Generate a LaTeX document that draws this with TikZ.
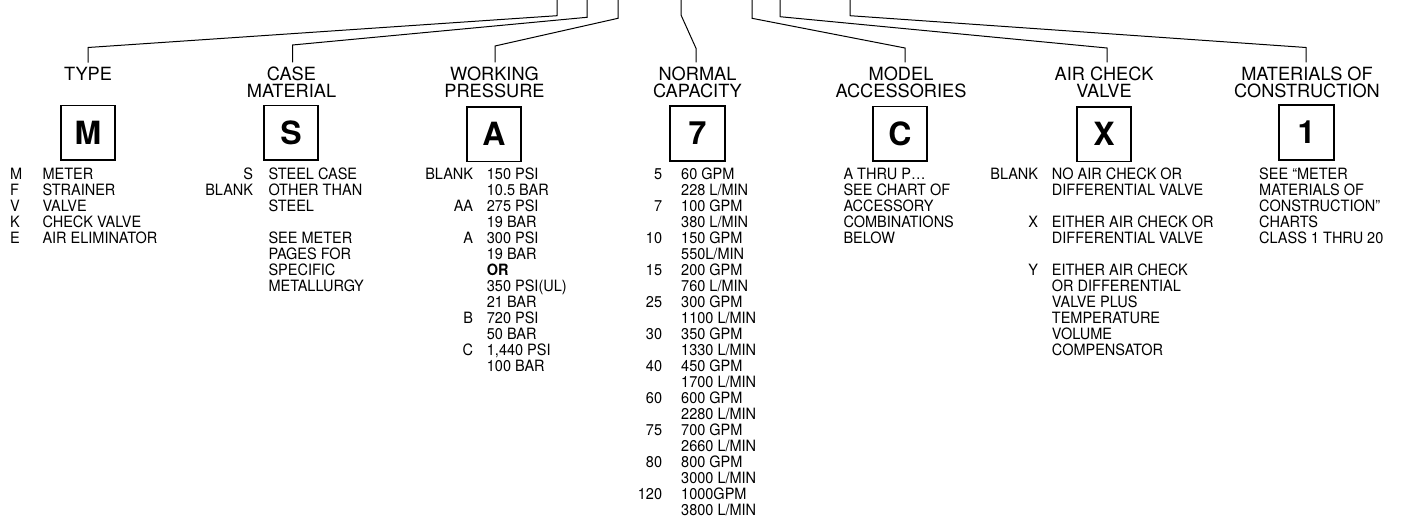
\documentclass[tikz,border=0pt]{standalone}
\usepackage{fontspec}
\setmainfont{TeX Gyre Heros}
\newfontfamily\bodyfont[FakeStretch=0.93]{TeX Gyre Heros}
\tikzset{
  conn/.style={line width=1pt, line join=miter},
  head/.style={font=\fontsize{18.2}{16.7}\selectfont, align=center, anchor=base, inner sep=0pt, outer ysep=5pt},
  codebox/.style={draw, line width=1.8pt, minimum size=54.5pt, inner sep=0pt, font=\fontsize{32}{32}\selectfont\bfseries},
  codes/.style={font=\bodyfont\fontsize{15.6}{16}\selectfont, align=right, anchor=base east, inner sep=0pt},
  codesl/.style={font=\bodyfont\fontsize{15.6}{16}\selectfont, align=left, anchor=base west, inner sep=0pt},
  desc/.style={font=\bodyfont\fontsize{15.6}{16}\selectfont, align=left, anchor=base west, inner sep=0pt},
}
\begin{document}
\begin{tikzpicture}[x=1pt,y=-1pt]
\useasboundingbox (0,0) rectangle (1404,519);

% headings (anchor = baseline of the last line)
\node[head] (hType) at (88,81) {TYPE};
\node[head] (hCase) at (291.5,97.7) {CASE\\MATERIAL};
\node[head] (hWork) at (494.5,97.7) {WORKING\\PRESSURE};
\node[head] (hNorm) at (697.5,97.7) {NORMAL\\CAPACITY};
\node[head] (hModel) at (901,97.7) {MODEL\\ACCESSORIES};
\node[head] (hAir) at (1104,97.7) {AIR CHECK\\VALVE};
\node[head] (hMat) at (1307,97.7) {MATERIALS OF\\CONSTRUCTION};

% boxes
\node[codebox] (bM) at (88,132.7) {M};
\node[codebox] (bS) at (291,132.7) {S};
\node[codebox] (bA) at (494,134.2) {A};
\node[codebox] (b7) at (697.5,133.5) {7};
\node[codebox] (bC) at (900,133.7) {C};
\node[codebox] (bX) at (1104,134.2) {X};
\node[codebox] (b1) at (1306.5,132.5) {1};

% connectors
\coordinate (t1) at (557,0);   \coordinate (k1) at (557,15.7);  \coordinate (c1) at (88,47.5);
\coordinate (t2) at (587,0);   \coordinate (k2) at (587,17.3);  \coordinate (c2) at (292.5,45);
\coordinate (t3) at (618,0);   \coordinate (k3) at (618,18.3);  \coordinate (c3) at (495,46);
\coordinate (t4) at (681,0);   \coordinate (k4) at (681,15);    \coordinate (c4) at (696,48.3);
\coordinate (t5) at (752,0);   \coordinate (k5) at (752,18.3);  \coordinate (c5) at (905,48);
\coordinate (t6) at (780,0);   \coordinate (k6) at (780,16.7);  \coordinate (c6) at (1107,48);
\coordinate (t7) at (850,0);   \coordinate (k7) at (850,15.7);  \coordinate (c7) at (1306,47.5);
\draw[conn] (t1) -- (k1) -- (c1) -- (c1 |- hType.north);
\draw[conn] (t2) -- (k2) -- (c2) -- (c2 |- hCase.north);
\draw[conn] (t3) -- (k3) -- (c3) -- (c3 |- hWork.north);
\draw[conn] (t4) -- (k4) -- (c4) -- (c4 |- hNorm.north);
\draw[conn] (t5) -- (k5) -- (c5) -- (c5 |- hModel.north);
\draw[conn] (t6) -- (k6) -- (c6) -- (c6 |- hAir.north);
\draw[conn] (t7) -- (k7) -- (c7) -- (c7 |- hMat.north);

% TYPE (first baseline 179, 16 per line; anchor at last line)
\node[codesl] (cType) at (10,243) {M\\F\\V\\K\\E};
\node[desc] (dType) at (42.3,243) {METER\\STRAINER\\VALVE\\CHECK VALVE\\AIR ELIMINATOR};

% CASE MATERIAL
\node[codes] (cCase) at (253.3,195) {S\\BLANK};
\node[desc] (dCase) at (268.3,291) {STEEL CASE\\OTHER THAN\\STEEL\\\mbox{}\\SEE METER\\PAGES FOR\\SPECIFIC\\METALLURGY};

% WORKING PRESSURE
\node[codes] (cWork) at (473.3,355) {BLANK\\\mbox{}\\AA\\\mbox{}\\A\\\mbox{}\\\mbox{}\\\mbox{}\\\mbox{}\\B\\\mbox{}\\C};
\node[desc] (dWork) at (486.7,371) {150 PSI\\10.5 BAR\\275 PSI\\19 BAR\\300 PSI\\19 BAR\\\textbf{OR}\\350 PSI(UL)\\21 BAR\\720 PSI\\50 BAR\\1,440 PSI\\100 BAR};

% NORMAL CAPACITY
\node[codes] (cNorm) at (662.3,499) {5\\\mbox{}\\7\\\mbox{}\\10\\\mbox{}\\15\\\mbox{}\\25\\\mbox{}\\30\\\mbox{}\\40\\\mbox{}\\60\\\mbox{}\\75\\\mbox{}\\80\\\mbox{}\\120};
\node[desc] (dNorm) at (681,515) {60 GPM\\228 L/MIN\\100 GPM\\380 L/MIN\\150 GPM\\550L/MIN\\200 GPM\\760 L/MIN\\300 GPM\\1100 L/MIN\\350 GPM\\1330 L/MIN\\450 GPM\\1700 L/MIN\\600 GPM\\2280 L/MIN\\700 GPM\\2660 L/MIN\\800 GPM\\3000 L/MIN\\1000GPM\\3800 L/MIN};

% MODEL ACCESSORIES
\node[desc] (dModel) at (843.3,243) {A THRU P…\\SEE CHART OF\\ACCESSORY\\COMBINATIONS\\BELOW};

% AIR CHECK VALVE
\node[codes] (cAir) at (1038.3,275) {BLANK\\\mbox{}\\\mbox{}\\X\\\mbox{}\\\mbox{}\\Y};
\node[desc] (dAir) at (1051.7,355) {NO AIR CHECK OR\\DIFFERENTIAL VALVE\\\mbox{}\\EITHER AIR CHECK OR\\DIFFERENTIAL VALVE\\\mbox{}\\EITHER AIR CHECK\\OR DIFFERENTIAL\\VALVE PLUS\\TEMPERATURE\\VOLUME\\COMPENSATOR};

% MATERIALS OF CONSTRUCTION
\node[desc] (dMat) at (1259,243) {SEE “METER\\MATERIALS OF\\CONSTRUCTION”\\CHARTS\\CLASS 1 THRU 20};
\end{tikzpicture}
\end{document}
